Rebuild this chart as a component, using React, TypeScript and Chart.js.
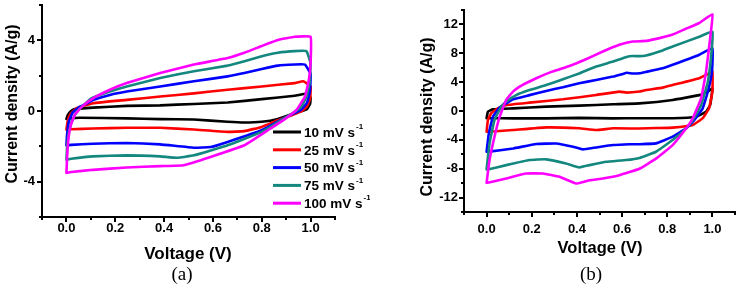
import React, { useEffect, useRef } from 'react';
import { Chart, registerables } from 'chart.js';

Chart.register(...registerables);

// ---------- data: panel (a) ----------
const A10_V = [0, 0.005, 0.015, 0.03, 0.109, 0.247, 0.384, 0.522, 0.66, 0.8, 0.935, 0.99, 1.0, 0.998, 0.985, 0.96, 0.935, 0.866, 0.8, 0.729, 0.66, 0.522, 0.384, 0.247, 0.054, 0.01, 0];
const A10_I = [-0.45, -0.25, -0.05, 0.1, 0.19, 0.29, 0.32, 0.4, 0.48, 0.67, 0.86, 1.0, 0.75, 0.4, 0.1, -0.02, -0.12, -0.45, -0.61, -0.65, -0.61, -0.48, -0.46, -0.42, -0.38, -0.42, -0.45];

const A25_V = [0, 0.005, 0.015, 0.04, 0.109, 0.247, 0.384, 0.522, 0.66, 0.8, 0.935, 0.97, 1.0, 0.998, 0.985, 0.965, 0.94, 0.9, 0.866, 0.8, 0.729, 0.66, 0.522, 0.384, 0.247, 0.109, 0.02, 0];
const A25_I = [-1.05, -0.6, -0.2, 0.15, 0.44, 0.63, 0.82, 1.0, 1.2, 1.39, 1.58, 1.68, 1.4, 0.7, 0.25, 0.0, -0.15, -0.35, -0.52, -0.9, -1.14, -1.18, -1.05, -0.95, -0.95, -0.99, -1.03, -1.05];

const A50_V = [0, 0.003, 0.01, 0.025, 0.05, 0.08, 0.109, 0.178, 0.247, 0.384, 0.522, 0.66, 0.729, 0.8, 0.866, 0.935, 0.977, 1.0, 0.997, 0.985, 0.96, 0.935, 0.9, 0.8, 0.66, 0.591, 0.522, 0.384, 0.247, 0.109, 0.02, 0];
const A50_I = [-1.94, -1.3, -0.6, -0.1, 0.2, 0.4, 0.62, 0.91, 1.1, 1.39, 1.68, 1.96, 2.15, 2.38, 2.57, 2.63, 2.63, 2.1, 1.1, 0.45, 0.05, -0.12, -0.35, -1.09, -1.75, -2.04, -2.08, -1.89, -1.81, -1.85, -1.92, -1.94];

const A75_V = [0, 0.003, 0.01, 0.025, 0.045, 0.067, 0.1, 0.178, 0.247, 0.384, 0.522, 0.66, 0.729, 0.8, 0.866, 0.935, 0.983, 1.0, 0.996, 0.983, 0.962, 0.935, 0.9, 0.8, 0.66, 0.522, 0.453, 0.384, 0.247, 0.109, 0.02, 0];
const A75_I = [-2.76, -2.0, -1.2, -0.5, 0.0, 0.29, 0.7, 1.1, 1.39, 1.87, 2.25, 2.57, 2.82, 3.1, 3.3, 3.39, 3.39, 2.7, 1.6, 0.8, 0.25, -0.05, -0.35, -1.18, -1.94, -2.51, -2.65, -2.57, -2.51, -2.57, -2.7, -2.76];

const A100_V = [0, 0.003, 0.008, 0.018, 0.035, 0.067, 0.109, 0.178, 0.247, 0.384, 0.522, 0.66, 0.729, 0.8, 0.866, 0.935, 1.0, 1.0, 0.993, 0.977, 0.942, 0.9, 0.825, 0.729, 0.59, 0.48, 0.384, 0.247, 0.109, 0.02, 0];
const A100_I = [-3.5, -2.6, -1.6, -0.8, -0.2, 0.29, 0.72, 1.2, 1.58, 2.15, 2.63, 3.0, 3.3, 3.68, 4.02, 4.2, 4.2, 2.7, 1.77, 0.82, 0.06, -0.4, -1.09, -1.94, -2.6, -3.07, -3.12, -3.2, -3.33, -3.45, -3.5];

// ---------- data: panel (b) ----------
const B10_V = [0, 0.006, 0.028, 0.117, 0.264, 0.41, 0.56, 0.677, 0.824, 0.942, 0.985, 1.0, 0.99, 0.972, 0.928, 0.824, 0.677, 0.56, 0.41, 0.264, 0.117, 0.02, 0];
const B10_I = [-1.0, -0.1, 0.23, 0.37, 0.6, 0.74, 0.93, 1.06, 1.53, 2.2, 2.8, 3.15, 0.83, -0.1, -0.79, -1.0, -1.0, -1.02, -0.95, -1.02, -1.02, -1.0, -1.0];

const B25_V = [0, 0.006, 0.02, 0.05, 0.087, 0.19, 0.338, 0.485, 0.588, 0.62, 0.677, 0.706, 0.78, 0.824, 0.942, 0.985, 1.0, 1.0, 0.985, 0.957, 0.913, 0.824, 0.75, 0.677, 0.56, 0.485, 0.41, 0.264, 0.117, 0.028, 0];
const B25_I = [-2.87, -1.25, -0.32, 0.37, 0.83, 1.16, 1.62, 2.22, 2.69, 2.55, 2.7, 2.92, 3.24, 3.6, 4.54, 5.2, 5.46, 2.7, 0.37, -1.0, -1.94, -2.3, -2.36, -2.43, -2.4, -2.64, -2.4, -2.27, -2.64, -2.85, -2.87];

const B50_V = [0, 0.01, 0.028, 0.058, 0.087, 0.117, 0.19, 0.264, 0.338, 0.41, 0.485, 0.56, 0.603, 0.62, 0.647, 0.677, 0.706, 0.78, 0.824, 0.942, 1.0, 0.998, 0.98, 0.957, 0.92, 0.884, 0.824, 0.75, 0.677, 0.633, 0.56, 0.485, 0.426, 0.383, 0.308, 0.22, 0.117, 0.02, 0];
const B50_I = [-5.65, -3.1, -0.79, 0.5, 1.06, 1.62, 2.2, 2.78, 3.29, 3.84, 4.3, 4.77, 5.14, 5.3, 5.2, 5.23, 5.42, 5.93, 6.4, 7.8, 8.7, 5.46, 2.7, 0.37, -1.25, -2.4, -3.56, -4.49, -4.6, -4.6, -4.72, -5.05, -5.32, -4.95, -4.5, -4.58, -5.19, -5.6, -5.65];

const B75_V = [0, 0.013, 0.035, 0.065, 0.087, 0.131, 0.19, 0.264, 0.338, 0.41, 0.485, 0.56, 0.62, 0.647, 0.677, 0.706, 0.78, 0.824, 0.942, 1.0, 0.995, 0.98, 0.95, 0.913, 0.884, 0.824, 0.75, 0.677, 0.618, 0.53, 0.456, 0.41, 0.352, 0.264, 0.19, 0.087, 0.02, 0];
const B75_I = [-8.1, -4.5, -1.25, 0.6, 1.3, 2.2, 2.9, 3.6, 4.4, 5.2, 6.16, 6.85, 7.5, 7.62, 7.6, 7.7, 8.4, 8.94, 10.3, 11.0, 7.8, 4.07, 0.83, -1.25, -2.4, -4.03, -5.65, -6.5, -6.8, -7.04, -7.5, -7.82, -7.27, -6.7, -6.8, -7.5, -8.0, -8.1];

const B100_V = [0, 0.013, 0.035, 0.058, 0.087, 0.117, 0.16, 0.22, 0.29, 0.367, 0.44, 0.515, 0.588, 0.647, 0.707, 0.765, 0.824, 0.883, 0.942, 1.0, 0.99, 0.972, 0.95, 0.913, 0.884, 0.824, 0.75, 0.677, 0.588, 0.515, 0.456, 0.397, 0.323, 0.25, 0.175, 0.087, 0.02, 0];
const B100_I = [-9.95, -6.8, -3.56, -0.79, 1.53, 2.69, 3.61, 4.54, 5.46, 6.25, 7.18, 8.24, 9.17, 9.63, 9.72, 10.1, 10.6, 11.4, 12.2, 13.4, 10.1, 5.46, 1.76, -1.0, -2.4, -4.72, -6.6, -8.0, -8.9, -9.35, -9.6, -10.05, -9.12, -8.66, -8.66, -9.35, -9.85, -9.95];

// ---------- labels / ticks ----------
const SCAN_LABELS = ['10 mV s', '25 mV s', '50 mV s', '75 mV s', '100 mV s'];
const SCAN_SUP = '-1';
const SERIES_COLORS = ['#000000', '#ff0000', '#0000ff', '#14877f', '#ff00ff'];

const X_TICK_VALUES = [0, 0.2, 0.4, 0.6, 0.8, 1.0];
const X_TICK_LABELS = ['0.0', '0.2', '0.4', '0.6', '0.8', '1.0'];
const YA_TICK_VALUES = [-4, 0, 4];
const YA_TICK_LABELS = ['-4', '0', '4'];
const YB_TICK_VALUES = [-12, -8, -4, 0, 4, 8, 12];
const YB_TICK_LABELS = ['-12', '-8', '-4', '0', '4', '8', '12'];

const X_TITLE = 'Voltage (V)';
const Y_TITLE = 'Current density (A/g)';

const SANS = "'Liberation Sans', Arial, Helvetica, sans-serif";
const SERIF = "'Liberation Serif', 'Times New Roman', serif";

function labelFor(values: number[], labels: string[]) {
  return (v: any) => {
    const k = values.findIndex((t) => Math.abs(t - Number(v)) < 1e-6);
    return k >= 0 ? labels[k] : '';
  };
}

// tick marks: long for labelled ticks, short for the others
const tickPlugin = {
  id: 'cvTicks',
  afterDraw(chart: any) {
    const ctx = chart.ctx;
    const xs = chart.scales.x;
    const ys = chart.scales.y;
    ctx.save();
    ctx.strokeStyle = '#000';
    ctx.lineWidth = 2;
    ctx.beginPath();
    xs.ticks.forEach((t: any) => {
      const major = t.label !== '' && t.label != null;
      const len = major ? 5 : 3;
      const px = Math.round(xs.getPixelForValue(t.value));
      ctx.moveTo(px, xs.top);
      ctx.lineTo(px, xs.top + len);
    });
    ys.ticks.forEach((t: any) => {
      const major = t.label !== '' && t.label != null;
      const len = major ? 5 : 3;
      const py = Math.round(ys.getPixelForValue(t.value));
      ctx.moveTo(ys.right, py);
      ctx.lineTo(ys.right - len, py);
    });
    ctx.stroke();
    ctx.restore();
  },
};

// legend with superscript unit
const legendPlugin = {
  id: 'cvLegend',
  afterDraw(chart: any, _args: any, opts: any) {
    if (!opts || !opts.show) return;
    const ctx = chart.ctx;
    ctx.save();
    chart.data.datasets.forEach((ds: any, k: number) => {
      const y = opts.y + k * opts.dy;
      ctx.strokeStyle = ds.borderColor;
      ctx.lineWidth = 3;
      ctx.beginPath();
      ctx.moveTo(opts.x, y);
      ctx.lineTo(opts.x + opts.lineLen, y);
      ctx.stroke();
      ctx.fillStyle = '#000';
      ctx.textBaseline = 'middle';
      ctx.textAlign = 'left';
      ctx.font = `bold ${opts.size}px ${SANS}`;
      const tx = opts.x + opts.lineLen + opts.gap;
      ctx.fillText(ds.label, tx, y + 1);
      const w = ctx.measureText(ds.label).width;
      ctx.font = `bold ${opts.supSize}px ${SANS}`;
      ctx.fillText(SCAN_SUP, tx + w + 1, y - 5);
    });
    ctx.restore();
  },
};

// axis titles and panel letter
const textPlugin = {
  id: 'cvText',
  afterDraw(chart: any, _args: any, opts: any) {
    if (!opts || !opts.items) return;
    const ctx = chart.ctx;
    opts.items.forEach((it: any) => {
      ctx.save();
      ctx.fillStyle = '#000';
      ctx.font = it.font;
      ctx.textAlign = 'center';
      ctx.textBaseline = 'middle';
      ctx.translate(it.x, it.y);
      if (it.rot) ctx.rotate(it.rot);
      ctx.fillText(it.text, 0, 0);
      ctx.restore();
    });
  },
};

type Panel = {
  series: { v: number[]; i: number[] }[];
  yMin: number;
  yMax: number;
  yTickValues: number[];
  yTickLabels: string[];
  padding: any;
  yWidth: number;
  xHeight: number;
  xPad: number;
  yPad: number;
  legend: any;
  texts: any[];
};

function makeConfig(p: Panel): any {
  const tickFont = { family: SANS, weight: 'bold', size: 13 };
  return {
    type: 'scatter',
    data: {
      datasets: p.series.map((s, k) => ({
        label: SCAN_LABELS[k],
        data: s.v.map((x, j) => ({ x, y: s.i[j] })),
        showLine: true,
        borderColor: SERIES_COLORS[k],
        backgroundColor: SERIES_COLORS[k],
        borderWidth: 2.6,
        pointRadius: 0,
        pointHoverRadius: 0,
        tension: 0.1,
        fill: false,
        order: 5 - k,
        borderCapStyle: 'round',
        borderJoinStyle: 'round',
      })),
    },
    options: {
      animation: false,
      responsive: false,
      devicePixelRatio: 1,
      events: [],
      layout: { padding: p.padding },
      scales: {
        x: {
          type: 'linear',
          position: 'bottom',
          min: -0.1,
          max: 1.1,
          afterFit: (s: any) => {
            s.height = p.xHeight;
            s.paddingLeft = 0;
            s.paddingRight = 0;
          },
          grid: { display: false, drawTicks: false },
          border: { display: true, color: '#000', width: 2 },
          ticks: {
            stepSize: 0.1,
            autoSkip: false,
            maxRotation: 0,
            minRotation: 0,
            padding: p.xPad,
            color: '#000',
            font: tickFont,
            callback: labelFor(X_TICK_VALUES, X_TICK_LABELS),
          },
        },
        y: {
          type: 'linear',
          position: 'left',
          min: p.yMin,
          max: p.yMax,
          afterFit: (s: any) => {
            s.width = p.yWidth;
            s.paddingTop = 0;
            s.paddingBottom = 0;
          },
          grid: { display: false, drawTicks: false },
          border: { display: true, color: '#000', width: 2 },
          ticks: {
            stepSize: 2,
            autoSkip: false,
            padding: p.yPad,
            color: '#000',
            font: tickFont,
            callback: labelFor(p.yTickValues, p.yTickLabels),
          },
        },
      },
      plugins: {
        legend: { display: false },
        tooltip: { enabled: false },
        cvLegend: p.legend,
        cvText: { items: p.texts },
      },
    },
    plugins: [tickPlugin, legendPlugin, textPlugin],
  };
}

const PANEL_A: Panel = {
  series: [
    { v: A10_V, i: A10_I },
    { v: A25_V, i: A25_I },
    { v: A50_V, i: A50_I },
    { v: A75_V, i: A75_I },
    { v: A100_V, i: A100_I },
  ],
  yMin: -6,
  yMax: 6,
  yTickValues: YA_TICK_VALUES,
  yTickLabels: YA_TICK_LABELS,
  padding: { left: 0, top: 5, right: 35, bottom: 0 },
  yWidth: 42,
  xHeight: 76,
  xPad: 4,
  yPad: 7,
  legend: { show: true, x: 273, y: 132, dy: 17.8, lineLen: 28, gap: 3, size: 13.5, supSize: 8 },
  texts: [
    { text: Y_TITLE, x: 12.5, y: 104, rot: -Math.PI / 2, font: `bold 16px ${SANS}` },
    { text: X_TITLE, x: 188, y: 254, font: `bold 17px ${SANS}` },
    { text: '(a)', x: 182, y: 275, font: `19px ${SERIF}` },
  ],
};

const PANEL_B: Panel = {
  series: [
    { v: B10_V, i: B10_I },
    { v: B25_V, i: B25_I },
    { v: B50_V, i: B50_I },
    { v: B75_V, i: B75_I },
    { v: B100_V, i: B100_I },
  ],
  yMin: -14,
  yMax: 14,
  yTickValues: YB_TICK_VALUES,
  yTickLabels: YB_TICK_LABELS,
  padding: { left: 0, top: 10, right: 6, bottom: 0 },
  yWidth: 94,
  xHeight: 81,
  xPad: 10,
  yPad: 6,
  legend: { show: false },
  texts: [
    { text: Y_TITLE, x: 58, y: 117, rot: -Math.PI / 2, font: `bold 16px ${SANS}` },
    { text: X_TITLE, x: 230, y: 248, font: `bold 16.5px ${SANS}` },
    { text: '(b)', x: 221, y: 275, font: `19px ${SERIF}` },
  ],
};

function CVChart({ panel, left, width }: { panel: Panel; left: number; width: number }) {
  const ref = useRef<HTMLCanvasElement>(null);
  useEffect(() => {
    if (!ref.current) return;
    const chart = new Chart(ref.current, makeConfig(panel));
    return () => chart.destroy();
  }, [panel]);
  return (
    <canvas
      ref={ref}
      width={width}
      height={293}
      style={{ position: 'absolute', left, top: 0, width, height: 293, display: 'block' }}
    />
  );
}

export default function App() {
  return (
    <div style={{ position: 'absolute', left: 0, top: 0, width: 741, height: 293, background: '#fff', overflow: 'hidden' }}>
      <CVChart panel={PANEL_A} left={0} width={370} />
      <CVChart panel={PANEL_B} left={370} width={371} />
    </div>
  );
}
